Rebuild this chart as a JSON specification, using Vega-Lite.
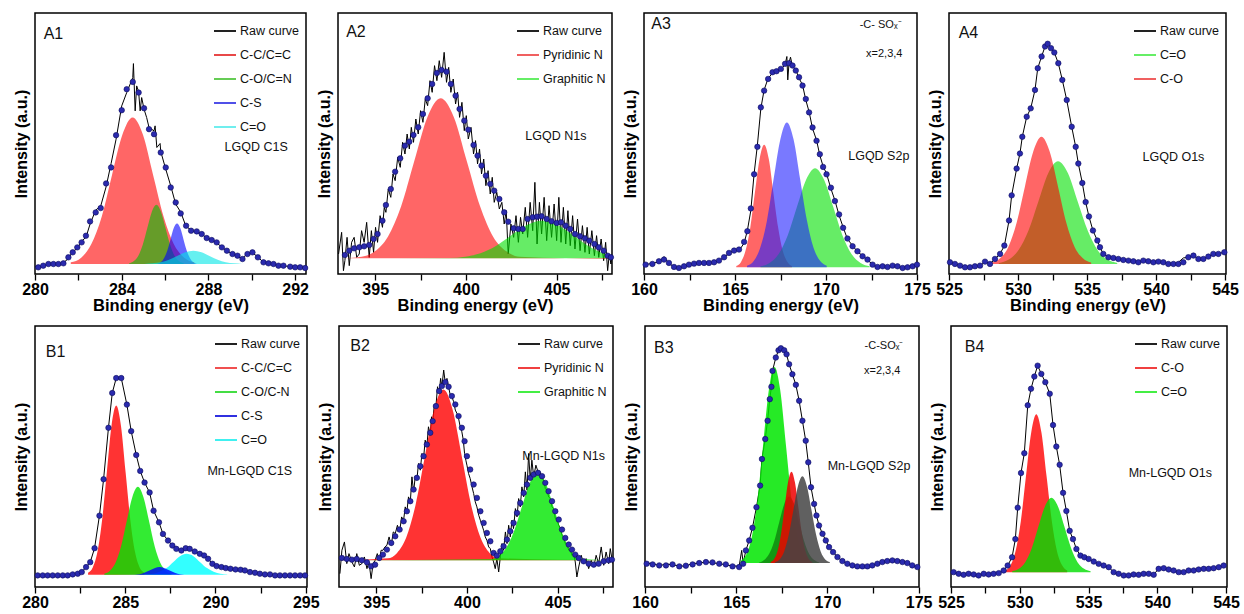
{
"$schema":"https://vega.github.io/schema/vega-lite/v6.json",
"padding":{"left":12,"top":12,"right":0,"bottom":0},
"config":{
 "font":"Liberation Sans",
 "view":{"stroke":"#000","strokeWidth":1.5},
 "axis":{"grid":false,"domain":false,"labelFont":"Liberation Sans","labelFontSize":16,"labelFontWeight":"bold","labelColor":"#000","titleFont":"Liberation Sans","titleFontWeight":"bold","titleColor":"#000","tickColor":"#000","tickWidth":1.3},
 "axisX":{"titleFontSize":16.5,"labelPadding":1,"titlePadding":0,"labelFlush":false,"labelOverlap":false,"tickSize":{"condition":{"test":"datum.label === ''","value":3.5},"value":6}},
 "axisY":{"labels":false,"ticks":false,"titleFontSize":16,"titlePadding":6},
 "legend":{"orient":"top-right","offset":6,"symbolType":"stroke","symbolSize":484,"symbolStrokeWidth":2,"symbolOpacity":1,"labelFont":"Liberation Sans","labelFontSize":12.5,"labelColor":"#111","rowPadding":5,"labelOffset":3,"padding":0},
 "text":{"font":"Liberation Sans","color":"#111"}
},
"datasets":{
"comp":[
{"p":"A1","c":"C-C/C=C","x":281.65,"y":35},{"p":"A1","c":"C-C/C=C","x":282.13,"y":49},{"p":"A1","c":"C-C/C=C","x":282.6,"y":90},{"p":"A1","c":"C-C/C=C","x":283.08,"y":173},{"p":"A1","c":"C-C/C=C","x":283.55,"y":297},{"p":"A1","c":"C-C/C=C","x":284.03,"y":418},{"p":"A1","c":"C-C/C=C","x":284.5,"y":470},{"p":"A1","c":"C-C/C=C","x":284.98,"y":418},{"p":"A1","c":"C-C/C=C","x":285.45,"y":297},{"p":"A1","c":"C-C/C=C","x":285.93,"y":173},{"p":"A1","c":"C-C/C=C","x":286.4,"y":90},{"p":"A1","c":"C-C/C=C","x":286.88,"y":49},{"p":"A1","c":"C-C/C=C","x":287.35,"y":35},
{"p":"A1","c":"C-O/C=N","x":284.34,"y":32},{"p":"A1","c":"C-O/C=N","x":284.55,"y":38},{"p":"A1","c":"C-O/C=N","x":284.76,"y":54},{"p":"A1","c":"C-O/C=N","x":284.97,"y":88},{"p":"A1","c":"C-O/C=N","x":285.18,"y":138},{"p":"A1","c":"C-O/C=N","x":285.39,"y":187},{"p":"A1","c":"C-O/C=N","x":285.6,"y":208},{"p":"A1","c":"C-O/C=N","x":285.81,"y":187},{"p":"A1","c":"C-O/C=N","x":286.02,"y":138},{"p":"A1","c":"C-O/C=N","x":286.23,"y":88},{"p":"A1","c":"C-O/C=N","x":286.44,"y":54},{"p":"A1","c":"C-O/C=N","x":286.65,"y":38},{"p":"A1","c":"C-O/C=N","x":286.86,"y":32},
{"p":"A1","c":"C-S","x":285.65,"y":31},{"p":"A1","c":"C-S","x":285.8,"y":35},{"p":"A1","c":"C-S","x":285.95,"y":47},{"p":"A1","c":"C-S","x":286.1,"y":70},{"p":"A1","c":"C-S","x":286.25,"y":104},{"p":"A1","c":"C-S","x":286.4,"y":138},{"p":"A1","c":"C-S","x":286.55,"y":152},{"p":"A1","c":"C-S","x":286.7,"y":138},{"p":"A1","c":"C-S","x":286.85,"y":104},{"p":"A1","c":"C-S","x":287.0,"y":70},{"p":"A1","c":"C-S","x":287.15,"y":47},{"p":"A1","c":"C-S","x":287.3,"y":35},{"p":"A1","c":"C-S","x":287.45,"y":31},
{"p":"A1","c":"C=O","x":285.05,"y":30},{"p":"A1","c":"C=O","x":285.43,"y":32},{"p":"A1","c":"C=O","x":285.8,"y":35},{"p":"A1","c":"C=O","x":286.18,"y":43},{"p":"A1","c":"C=O","x":286.55,"y":54},{"p":"A1","c":"C=O","x":286.93,"y":65},{"p":"A1","c":"C=O","x":287.3,"y":70},{"p":"A1","c":"C=O","x":287.68,"y":65},{"p":"A1","c":"C=O","x":288.05,"y":54},{"p":"A1","c":"C=O","x":288.43,"y":43},{"p":"A1","c":"C=O","x":288.8,"y":35},{"p":"A1","c":"C=O","x":289.18,"y":32},{"p":"A1","c":"C=O","x":289.55,"y":30},
{"p":"A2","c":"Pyridinic N","x":392.95,"y":47},{"p":"A2","c":"Pyridinic N","x":394.25,"y":52},{"p":"A2","c":"Pyridinic N","x":394.98,"y":68},{"p":"A2","c":"Pyridinic N","x":395.7,"y":112},{"p":"A2","c":"Pyridinic N","x":396.43,"y":203},{"p":"A2","c":"Pyridinic N","x":397.15,"y":338},{"p":"A2","c":"Pyridinic N","x":397.88,"y":471},{"p":"A2","c":"Pyridinic N","x":398.6,"y":527},{"p":"A2","c":"Pyridinic N","x":399.33,"y":471},{"p":"A2","c":"Pyridinic N","x":400.05,"y":338},{"p":"A2","c":"Pyridinic N","x":400.78,"y":203},{"p":"A2","c":"Pyridinic N","x":401.5,"y":112},{"p":"A2","c":"Pyridinic N","x":402.23,"y":68},{"p":"A2","c":"Pyridinic N","x":402.95,"y":52},{"p":"A2","c":"Pyridinic N","x":408.05,"y":45},
{"p":"A2","c":"Graphitic N","x":392.95,"y":47},{"p":"A2","c":"Graphitic N","x":399.1,"y":48},{"p":"A2","c":"Graphitic N","x":399.95,"y":52},{"p":"A2","c":"Graphitic N","x":400.8,"y":62},{"p":"A2","c":"Graphitic N","x":401.65,"y":84},{"p":"A2","c":"Graphitic N","x":402.5,"y":116},{"p":"A2","c":"Graphitic N","x":403.35,"y":147},{"p":"A2","c":"Graphitic N","x":404.2,"y":160},{"p":"A2","c":"Graphitic N","x":405.05,"y":147},{"p":"A2","c":"Graphitic N","x":405.9,"y":116},{"p":"A2","c":"Graphitic N","x":406.75,"y":84},{"p":"A2","c":"Graphitic N","x":407.6,"y":62},{"p":"A2","c":"Graphitic N","x":408.05,"y":56},
{"p":"A3","c":"r","x":165.07,"y":24},{"p":"A3","c":"r","x":165.33,"y":36},{"p":"A3","c":"r","x":165.58,"y":70},{"p":"A3","c":"r","x":165.84,"y":139},{"p":"A3","c":"r","x":166.09,"y":242},{"p":"A3","c":"r","x":166.35,"y":343},{"p":"A3","c":"r","x":166.6,"y":386},{"p":"A3","c":"r","x":166.86,"y":343},{"p":"A3","c":"r","x":167.11,"y":242},{"p":"A3","c":"r","x":167.37,"y":139},{"p":"A3","c":"r","x":167.62,"y":70},{"p":"A3","c":"r","x":167.88,"y":36},{"p":"A3","c":"r","x":168.13,"y":24},
{"p":"A3","c":"g","x":166.4,"y":23},{"p":"A3","c":"g","x":166.9,"y":33},{"p":"A3","c":"g","x":167.4,"y":60},{"p":"A3","c":"g","x":167.9,"y":116},{"p":"A3","c":"g","x":168.4,"y":200},{"p":"A3","c":"g","x":168.9,"y":281},{"p":"A3","c":"g","x":169.4,"y":316},{"p":"A3","c":"g","x":169.9,"y":281},{"p":"A3","c":"g","x":170.4,"y":200},{"p":"A3","c":"g","x":170.9,"y":116},{"p":"A3","c":"g","x":171.4,"y":60},{"p":"A3","c":"g","x":171.9,"y":33},{"p":"A3","c":"g","x":172.4,"y":23},
{"p":"A3","c":"b","x":165.66,"y":25},{"p":"A3","c":"b","x":166.03,"y":39},{"p":"A3","c":"b","x":166.39,"y":79},{"p":"A3","c":"b","x":166.76,"y":161},{"p":"A3","c":"b","x":167.12,"y":283},{"p":"A3","c":"b","x":167.49,"y":402},{"p":"A3","c":"b","x":167.85,"y":453},{"p":"A3","c":"b","x":168.22,"y":402},{"p":"A3","c":"b","x":168.58,"y":283},{"p":"A3","c":"b","x":168.95,"y":161},{"p":"A3","c":"b","x":169.31,"y":79},{"p":"A3","c":"b","x":169.68,"y":39},{"p":"A3","c":"b","x":170.04,"y":25},
{"p":"A4","c":"C=O","x":528.61,"y":33},{"p":"A4","c":"C=O","x":529.33,"y":43},{"p":"A4","c":"C=O","x":530.04,"y":72},{"p":"A4","c":"C=O","x":530.76,"y":130},{"p":"A4","c":"C=O","x":531.47,"y":216},{"p":"A4","c":"C=O","x":532.19,"y":301},{"p":"A4","c":"C=O","x":532.9,"y":337},{"p":"A4","c":"C=O","x":533.62,"y":301},{"p":"A4","c":"C=O","x":534.33,"y":216},{"p":"A4","c":"C=O","x":535.05,"y":130},{"p":"A4","c":"C=O","x":535.76,"y":72},{"p":"A4","c":"C=O","x":536.48,"y":43},{"p":"A4","c":"C=O","x":537.19,"y":33},
{"p":"A4","c":"C-O","x":528.1,"y":34},{"p":"A4","c":"C-O","x":528.7,"y":47},{"p":"A4","c":"C-O","x":529.3,"y":81},{"p":"A4","c":"C-O","x":529.9,"y":153},{"p":"A4","c":"C-O","x":530.5,"y":261},{"p":"A4","c":"C-O","x":531.1,"y":365},{"p":"A4","c":"C-O","x":531.7,"y":410},{"p":"A4","c":"C-O","x":532.3,"y":365},{"p":"A4","c":"C-O","x":532.9,"y":261},{"p":"A4","c":"C-O","x":533.5,"y":153},{"p":"A4","c":"C-O","x":534.1,"y":81},{"p":"A4","c":"C-O","x":534.7,"y":47},{"p":"A4","c":"C-O","x":535.3,"y":34},
{"p":"B1","c":"C-C/C=C","x":282.94,"y":43},{"p":"B1","c":"C-C/C=C","x":283.2,"y":59},{"p":"B1","c":"C-C/C=C","x":283.46,"y":106},{"p":"B1","c":"C-C/C=C","x":283.72,"y":203},{"p":"B1","c":"C-C/C=C","x":283.98,"y":346},{"p":"B1","c":"C-C/C=C","x":284.24,"y":487},{"p":"B1","c":"C-C/C=C","x":284.5,"y":547},{"p":"B1","c":"C-C/C=C","x":284.76,"y":487},{"p":"B1","c":"C-C/C=C","x":285.02,"y":346},{"p":"B1","c":"C-C/C=C","x":285.28,"y":203},{"p":"B1","c":"C-C/C=C","x":285.54,"y":106},{"p":"B1","c":"C-C/C=C","x":285.8,"y":59},{"p":"B1","c":"C-C/C=C","x":286.06,"y":43},
{"p":"B1","c":"C-O/C-N","x":283.84,"y":40},{"p":"B1","c":"C-O/C-N","x":284.15,"y":49},{"p":"B1","c":"C-O/C-N","x":284.46,"y":73},{"p":"B1","c":"C-O/C-N","x":284.77,"y":123},{"p":"B1","c":"C-O/C-N","x":285.08,"y":198},{"p":"B1","c":"C-O/C-N","x":285.39,"y":271},{"p":"B1","c":"C-O/C-N","x":285.7,"y":302},{"p":"B1","c":"C-O/C-N","x":286.01,"y":271},{"p":"B1","c":"C-O/C-N","x":286.32,"y":198},{"p":"B1","c":"C-O/C-N","x":286.63,"y":123},{"p":"B1","c":"C-O/C-N","x":286.94,"y":73},{"p":"B1","c":"C-O/C-N","x":287.25,"y":49},{"p":"B1","c":"C-O/C-N","x":287.56,"y":40},
{"p":"B1","c":"C=O","x":282.65,"y":37},{"p":"B1","c":"C=O","x":286.15,"y":38},{"p":"B1","c":"C=O","x":286.53,"y":40},{"p":"B1","c":"C=O","x":286.9,"y":46},{"p":"B1","c":"C=O","x":287.28,"y":57},{"p":"B1","c":"C=O","x":287.65,"y":75},{"p":"B1","c":"C=O","x":288.03,"y":93},{"p":"B1","c":"C=O","x":288.4,"y":100},{"p":"B1","c":"C=O","x":288.78,"y":93},{"p":"B1","c":"C=O","x":289.15,"y":75},{"p":"B1","c":"C=O","x":289.53,"y":57},{"p":"B1","c":"C=O","x":289.9,"y":46},{"p":"B1","c":"C=O","x":290.28,"y":40},{"p":"B1","c":"C=O","x":290.65,"y":38},
{"p":"B1","c":"C-S","x":285.4,"y":37},{"p":"B1","c":"C-S","x":285.65,"y":38},{"p":"B1","c":"C-S","x":285.9,"y":40},{"p":"B1","c":"C-S","x":286.15,"y":45},{"p":"B1","c":"C-S","x":286.4,"y":51},{"p":"B1","c":"C-S","x":286.65,"y":57},{"p":"B1","c":"C-S","x":286.9,"y":60},{"p":"B1","c":"C-S","x":287.15,"y":57},{"p":"B1","c":"C-S","x":287.4,"y":51},{"p":"B1","c":"C-S","x":287.65,"y":45},{"p":"B1","c":"C-S","x":287.9,"y":40},{"p":"B1","c":"C-S","x":288.15,"y":38},{"p":"B1","c":"C-S","x":288.4,"y":37},{"p":"B1","c":"C-S","x":290.6,"y":37},
{"p":"B2","c":"Pyridinic N","x":392.95,"y":80},{"p":"B2","c":"Pyridinic N","x":395.64,"y":86},{"p":"B2","c":"Pyridinic N","x":396.15,"y":102},{"p":"B2","c":"Pyridinic N","x":396.66,"y":149},{"p":"B2","c":"Pyridinic N","x":397.17,"y":246},{"p":"B2","c":"Pyridinic N","x":397.68,"y":390},{"p":"B2","c":"Pyridinic N","x":398.19,"y":532},{"p":"B2","c":"Pyridinic N","x":398.7,"y":592},{"p":"B2","c":"Pyridinic N","x":399.21,"y":532},{"p":"B2","c":"Pyridinic N","x":399.72,"y":390},{"p":"B2","c":"Pyridinic N","x":400.23,"y":246},{"p":"B2","c":"Pyridinic N","x":400.74,"y":149},{"p":"B2","c":"Pyridinic N","x":401.25,"y":102},{"p":"B2","c":"Pyridinic N","x":401.76,"y":86},{"p":"B2","c":"Pyridinic N","x":408.05,"y":80},
{"p":"B2","c":"Graphitic N","x":392.95,"y":80},{"p":"B2","c":"Graphitic N","x":401.26,"y":83},{"p":"B2","c":"Graphitic N","x":401.7,"y":91},{"p":"B2","c":"Graphitic N","x":402.14,"y":115},{"p":"B2","c":"Graphitic N","x":402.58,"y":165},{"p":"B2","c":"Graphitic N","x":403.02,"y":239},{"p":"B2","c":"Graphitic N","x":403.46,"y":311},{"p":"B2","c":"Graphitic N","x":403.9,"y":342},{"p":"B2","c":"Graphitic N","x":404.34,"y":311},{"p":"B2","c":"Graphitic N","x":404.78,"y":239},{"p":"B2","c":"Graphitic N","x":405.22,"y":165},{"p":"B2","c":"Graphitic N","x":405.66,"y":115},{"p":"B2","c":"Graphitic N","x":406.1,"y":91},{"p":"B2","c":"Graphitic N","x":406.54,"y":83},{"p":"B2","c":"Graphitic N","x":408.05,"y":80},
{"p":"B3","c":"g1","x":165.24,"y":79},{"p":"B3","c":"g1","x":165.55,"y":98},{"p":"B3","c":"g1","x":165.86,"y":152},{"p":"B3","c":"g1","x":166.17,"y":264},{"p":"B3","c":"g1","x":166.48,"y":430},{"p":"B3","c":"g1","x":166.79,"y":593},{"p":"B3","c":"g1","x":167.1,"y":662},{"p":"B3","c":"g1","x":167.41,"y":593},{"p":"B3","c":"g1","x":167.72,"y":430},{"p":"B3","c":"g1","x":168.03,"y":264},{"p":"B3","c":"g1","x":168.34,"y":152},{"p":"B3","c":"g1","x":168.65,"y":98},{"p":"B3","c":"g1","x":168.96,"y":79},
{"p":"B3","c":"g2","x":166.25,"y":74},{"p":"B3","c":"g2","x":166.53,"y":81},{"p":"B3","c":"g2","x":166.8,"y":99},{"p":"B3","c":"g2","x":167.08,"y":137},{"p":"B3","c":"g2","x":167.35,"y":193},{"p":"B3","c":"g2","x":167.63,"y":249},{"p":"B3","c":"g2","x":167.9,"y":272},{"p":"B3","c":"g2","x":168.18,"y":249},{"p":"B3","c":"g2","x":168.45,"y":193},{"p":"B3","c":"g2","x":168.73,"y":137},{"p":"B3","c":"g2","x":169.0,"y":99},{"p":"B3","c":"g2","x":169.28,"y":81},{"p":"B3","c":"g2","x":169.55,"y":74},
{"p":"B3","c":"r","x":166.89,"y":75},{"p":"B3","c":"r","x":167.08,"y":84},{"p":"B3","c":"r","x":167.27,"y":109},{"p":"B3","c":"r","x":167.46,"y":161},{"p":"B3","c":"r","x":167.65,"y":239},{"p":"B3","c":"r","x":167.84,"y":315},{"p":"B3","c":"r","x":168.03,"y":347},{"p":"B3","c":"r","x":168.22,"y":315},{"p":"B3","c":"r","x":168.41,"y":239},{"p":"B3","c":"r","x":168.6,"y":161},{"p":"B3","c":"r","x":168.79,"y":109},{"p":"B3","c":"r","x":168.98,"y":84},{"p":"B3","c":"r","x":169.17,"y":75},
{"p":"B3","c":"k","x":167.13,"y":75},{"p":"B3","c":"k","x":167.38,"y":83},{"p":"B3","c":"k","x":167.63,"y":107},{"p":"B3","c":"k","x":167.88,"y":157},{"p":"B3","c":"k","x":168.13,"y":230},{"p":"B3","c":"k","x":168.38,"y":302},{"p":"B3","c":"k","x":168.63,"y":333},{"p":"B3","c":"k","x":168.88,"y":302},{"p":"B3","c":"k","x":169.13,"y":230},{"p":"B3","c":"k","x":169.38,"y":157},{"p":"B3","c":"k","x":169.63,"y":107},{"p":"B3","c":"k","x":169.88,"y":83},{"p":"B3","c":"k","x":170.13,"y":75},
{"p":"B4","c":"C-O","x":528.95,"y":50},{"p":"B4","c":"C-O","x":529.33,"y":66},{"p":"B4","c":"C-O","x":529.7,"y":110},{"p":"B4","c":"C-O","x":530.08,"y":200},{"p":"B4","c":"C-O","x":530.45,"y":335},{"p":"B4","c":"C-O","x":530.83,"y":467},{"p":"B4","c":"C-O","x":531.2,"y":523},{"p":"B4","c":"C-O","x":531.58,"y":467},{"p":"B4","c":"C-O","x":531.95,"y":335},{"p":"B4","c":"C-O","x":532.33,"y":200},{"p":"B4","c":"C-O","x":532.7,"y":110},{"p":"B4","c":"C-O","x":533.08,"y":66},{"p":"B4","c":"C-O","x":533.45,"y":50},
{"p":"B4","c":"C=O","x":529.45,"y":48},{"p":"B4","c":"C=O","x":529.93,"y":55},{"p":"B4","c":"C=O","x":530.4,"y":75},{"p":"B4","c":"C=O","x":530.88,"y":118},{"p":"B4","c":"C=O","x":531.35,"y":182},{"p":"B4","c":"C=O","x":531.83,"y":244},{"p":"B4","c":"C=O","x":532.3,"y":270},{"p":"B4","c":"C=O","x":532.78,"y":244},{"p":"B4","c":"C=O","x":533.25,"y":182},{"p":"B4","c":"C=O","x":533.73,"y":118},{"p":"B4","c":"C=O","x":534.2,"y":75},{"p":"B4","c":"C=O","x":534.68,"y":55},{"p":"B4","c":"C=O","x":535.15,"y":48}
],
"fit":[
{"p":"A1","x":280.0,"r":22},{"p":"A1","x":280.15,"y":20,"r":20},{"p":"A1","x":280.38,"y":25,"r":26},{"p":"A1","x":280.62,"y":30,"r":28},{"p":"A1","x":280.85,"y":30,"r":33},{"p":"A1","x":281.08,"y":30,"r":28},{"p":"A1","x":281.31,"y":32,"r":34},{"p":"A1","x":281.54,"y":50,"r":46},{"p":"A1","x":281.74,"y":65,"r":68},{"p":"A1","x":281.95,"y":80,"r":76},{"p":"A1","x":282.15,"y":95,"r":99},{"p":"A1","x":282.35,"y":115,"r":110},{"p":"A1","x":282.54,"y":158,"r":150},{"p":"A1","x":282.8,"y":185,"r":192},{"p":"A1","x":283.03,"y":198,"r":204},{"p":"A1","x":283.28,"y":272,"r":262},{"p":"A1","x":283.51,"y":320,"r":332},{"p":"A1","x":283.74,"y":417,"r":405},{"p":"A1","x":284.0,"y":492,"r":505},{"p":"A1","x":284.23,"y":555,"r":545},{"p":"A1","x":284.51,"y":577,"r":590},{"p":"A1","x":284.54,"r":632},{"p":"A1","x":284.62,"r":490},{"p":"A1","x":284.69,"r":565},{"p":"A1","x":284.78,"y":545,"r":548},{"p":"A1","x":284.85,"r":490},{"p":"A1","x":284.92,"r":530},{"p":"A1","x":285.03,"y":498,"r":495},{"p":"A1","x":285.15,"r":470},{"p":"A1","x":285.26,"y":435,"r":440},{"p":"A1","x":285.49,"y":420,"r":430},{"p":"A1","x":285.54,"r":445},{"p":"A1","x":285.62,"r":380},{"p":"A1","x":285.77,"r":392},{"p":"A1","x":285.8,"y":365,"r":368},{"p":"A1","x":286.03,"y":320,"r":315},{"p":"A1","x":286.26,"y":260,"r":265},{"p":"A1","x":286.49,"y":215,"r":210},{"p":"A1","x":286.72,"y":182,"r":186},{"p":"A1","x":286.97,"y":145,"r":142},{"p":"A1","x":287.2,"y":130,"r":133},{"p":"A1","x":287.46,"y":128,"r":124},{"p":"A1","x":287.69,"y":120,"r":122},{"p":"A1","x":287.92,"y":108,"r":106},{"p":"A1","x":288.15,"y":102,"r":104},{"p":"A1","x":288.38,"y":95,"r":92},{"p":"A1","x":288.62,"y":80,"r":82},{"p":"A1","x":288.85,"y":70,"r":68},{"p":"A1","x":289.11,"y":60,"r":62},{"p":"A1","x":289.34,"y":55,"r":52},{"p":"A1","x":289.57,"y":45,"r":47},{"p":"A1","x":289.8,"y":60,"r":62},{"p":"A1","x":290.03,"y":65,"r":63},{"p":"A1","x":290.28,"y":50,"r":52},{"p":"A1","x":290.54,"y":35,"r":34},{"p":"A1","x":290.77,"y":32,"r":33},{"p":"A1","x":291.0,"y":30,"r":29},{"p":"A1","x":291.23,"y":25,"r":26},{"p":"A1","x":291.46,"y":25,"r":24},{"p":"A1","x":291.77,"y":22,"r":23},{"p":"A1","x":292.0,"y":20,"r":20},{"p":"A1","x":292.23,"y":20,"r":21},{"p":"A1","x":292.46,"y":18,"r":18},
{"p":"A2","x":392.98,"r":60},{"p":"A2","x":393.15,"r":125},{"p":"A2","x":393.25,"r":10},{"p":"A2","x":393.33,"y":57,"r":40},{"p":"A2","x":393.45,"r":110},{"p":"A2","x":393.57,"y":70,"r":25},{"p":"A2","x":393.7,"r":95},{"p":"A2","x":393.84,"y":77,"r":110},{"p":"A2","x":393.98,"r":50},{"p":"A2","x":394.12,"y":80,"r":60},{"p":"A2","x":394.25,"r":130},{"p":"A2","x":394.39,"y":83,"r":95},{"p":"A2","x":394.53,"r":155},{"p":"A2","x":394.67,"y":87,"r":50},{"p":"A2","x":394.79,"r":130},{"p":"A2","x":394.91,"y":105,"r":65},{"p":"A2","x":395.02,"r":140},{"p":"A2","x":395.13,"y":120,"r":95},{"p":"A2","x":395.27,"r":175},{"p":"A2","x":395.4,"y":160,"r":140},{"p":"A2","x":395.5,"r":200},{"p":"A2","x":395.59,"y":207,"r":185},{"p":"A2","x":395.72,"r":255},{"p":"A2","x":395.86,"y":255,"r":230},{"p":"A2","x":395.98,"r":300},{"p":"A2","x":396.1,"y":307,"r":280},{"p":"A2","x":396.24,"r":350},{"p":"A2","x":396.38,"y":347,"r":320},{"p":"A2","x":396.51,"r":395},{"p":"A2","x":396.64,"y":385,"r":360},{"p":"A2","x":396.76,"r":420},{"p":"A2","x":396.88,"y":397,"r":375},{"p":"A2","x":396.99,"r":440},{"p":"A2","x":397.11,"y":417,"r":395},{"p":"A2","x":397.24,"r":465},{"p":"A2","x":397.37,"y":440,"r":420},{"p":"A2","x":397.5,"r":490},{"p":"A2","x":397.63,"y":480,"r":455},{"p":"A2","x":397.76,"r":525},{"p":"A2","x":397.89,"y":527,"r":505},{"p":"A2","x":398.02,"r":580},{"p":"A2","x":398.14,"y":570,"r":545},{"p":"A2","x":398.27,"r":625},{"p":"A2","x":398.4,"y":603,"r":580},{"p":"A2","x":398.53,"r":640},{"p":"A2","x":398.66,"y":612,"r":590},{"p":"A2","x":398.8,"r":665},{"p":"A2","x":398.93,"y":607,"r":575},{"p":"A2","x":399.05,"r":620},{"p":"A2","x":399.17,"y":570,"r":545},{"p":"A2","x":399.3,"r":585},{"p":"A2","x":399.43,"y":535,"r":510},{"p":"A2","x":399.54,"r":545},{"p":"A2","x":399.65,"y":495,"r":470},{"p":"A2","x":399.78,"r":515},{"p":"A2","x":399.91,"y":460,"r":430},{"p":"A2","x":400.02,"r":475},{"p":"A2","x":400.13,"y":433,"r":405},{"p":"A2","x":400.28,"r":440},{"p":"A2","x":400.42,"y":387,"r":360},{"p":"A2","x":400.53,"r":400},{"p":"A2","x":400.64,"y":355,"r":330},{"p":"A2","x":400.75,"r":375},{"p":"A2","x":400.86,"y":325,"r":300},{"p":"A2","x":400.98,"r":345},{"p":"A2","x":401.1,"y":295,"r":265},{"p":"A2","x":401.22,"r":310},{"p":"A2","x":401.34,"y":270,"r":240},{"p":"A2","x":401.45,"r":290},{"p":"A2","x":401.56,"y":250,"r":215},{"p":"A2","x":401.7,"r":245},{"p":"A2","x":401.84,"y":225,"r":195},{"p":"A2","x":401.98,"r":215},{"p":"A2","x":402.11,"y":185,"r":150},{"p":"A2","x":402.22,"r":190},{"p":"A2","x":402.33,"y":157,"r":60},{"p":"A2","x":402.48,"r":150},{"p":"A2","x":402.63,"y":137,"r":110},{"p":"A2","x":402.76,"r":175},{"p":"A2","x":402.89,"y":135,"r":95},{"p":"A2","x":403.01,"r":170},{"p":"A2","x":403.13,"y":135,"r":120},{"p":"A2","x":403.27,"r":200},{"p":"A2","x":403.4,"y":165,"r":110},{"p":"A2","x":403.54,"r":215},{"p":"A2","x":403.68,"y":170,"r":130},{"p":"A2","x":403.8,"r":275},{"p":"A2","x":403.92,"y":172,"r":90},{"p":"A2","x":404.05,"r":215},{"p":"A2","x":404.17,"y":173,"r":120},{"p":"A2","x":404.31,"r":230},{"p":"A2","x":404.45,"y":165,"r":100},{"p":"A2","x":404.58,"r":205},{"p":"A2","x":404.72,"y":158,"r":110},{"p":"A2","x":404.86,"r":210},{"p":"A2","x":405.0,"y":153,"r":100},{"p":"A2","x":405.12,"r":230},{"p":"A2","x":405.24,"y":155,"r":95},{"p":"A2","x":405.37,"r":200},{"p":"A2","x":405.5,"y":145,"r":90},{"p":"A2","x":405.62,"r":190},{"p":"A2","x":405.75,"y":135,"r":85},{"p":"A2","x":405.88,"r":175},{"p":"A2","x":406.01,"y":120,"r":75},{"p":"A2","x":406.15,"r":165},{"p":"A2","x":406.29,"y":113,"r":70},{"p":"A2","x":406.42,"r":145},{"p":"A2","x":406.56,"y":107,"r":65},{"p":"A2","x":406.68,"r":140},{"p":"A2","x":406.8,"y":100,"r":60},{"p":"A2","x":406.94,"r":130},{"p":"A2","x":407.08,"y":90,"r":55},{"p":"A2","x":407.2,"r":115},{"p":"A2","x":407.32,"y":80,"r":50},{"p":"A2","x":407.45,"r":105},{"p":"A2","x":407.59,"y":70,"r":40},{"p":"A2","x":407.7,"r":95},{"p":"A2","x":407.81,"y":55,"r":10},{"p":"A2","x":407.9,"r":60},{"p":"A2","x":407.99,"y":50,"r":30},{"p":"A2","x":408.05,"r":60},
{"p":"A3","x":160.09,"y":28,"r":28},{"p":"A3","x":160.46,"y":30,"r":32},{"p":"A3","x":160.82,"y":38,"r":36},{"p":"A3","x":161.1,"y":43,"r":52},{"p":"A3","x":161.37,"y":33,"r":31},{"p":"A3","x":161.65,"y":21,"r":22},{"p":"A3","x":161.92,"y":18,"r":16},{"p":"A3","x":162.2,"y":23,"r":25},{"p":"A3","x":162.47,"y":28,"r":27},{"p":"A3","x":162.75,"y":31,"r":34},{"p":"A3","x":163.02,"y":33,"r":30},{"p":"A3","x":163.3,"y":33,"r":35},{"p":"A3","x":163.57,"y":33,"r":32},{"p":"A3","x":163.85,"y":35,"r":37},{"p":"A3","x":164.12,"y":40,"r":38},{"p":"A3","x":164.4,"y":50,"r":52},{"p":"A3","x":164.67,"y":63,"r":60},{"p":"A3","x":164.95,"y":70,"r":73},{"p":"A3","x":165.22,"y":73,"r":70},{"p":"A3","x":165.5,"y":96,"r":92},{"p":"A3","x":165.68,"y":128,"r":130},{"p":"A3","x":165.87,"y":196,"r":190},{"p":"A3","x":166.05,"y":298,"r":300},{"p":"A3","x":166.23,"y":380,"r":385},{"p":"A3","x":166.42,"y":498,"r":495},{"p":"A3","x":166.6,"y":548,"r":550},{"p":"A3","x":166.82,"y":583,"r":585},{"p":"A3","x":167.06,"y":603,"r":600},{"p":"A3","x":167.28,"y":606,"r":610},{"p":"A3","x":167.52,"y":613,"r":612},{"p":"A3","x":167.75,"y":628,"r":625},{"p":"A3","x":167.85,"r":650},{"p":"A3","x":167.9,"r":580},{"p":"A3","x":167.97,"y":630,"r":632},{"p":"A3","x":168.05,"r":648},{"p":"A3","x":168.16,"y":623,"r":620},{"p":"A3","x":168.34,"y":608,"r":610},{"p":"A3","x":168.52,"y":588,"r":585},{"p":"A3","x":168.71,"y":563,"r":565},{"p":"A3","x":168.89,"y":523,"r":520},{"p":"A3","x":169.07,"y":483,"r":485},{"p":"A3","x":169.26,"y":438,"r":435},{"p":"A3","x":169.48,"y":398,"r":400},{"p":"A3","x":169.66,"y":358,"r":355},{"p":"A3","x":169.84,"y":320,"r":322},{"p":"A3","x":170.03,"y":298,"r":300},{"p":"A3","x":170.27,"y":258,"r":255},{"p":"A3","x":170.49,"y":218,"r":220},{"p":"A3","x":170.72,"y":178,"r":175},{"p":"A3","x":170.94,"y":138,"r":140},{"p":"A3","x":171.18,"y":106,"r":104},{"p":"A3","x":171.46,"y":83,"r":85},{"p":"A3","x":171.73,"y":68,"r":66},{"p":"A3","x":172.01,"y":53,"r":55},{"p":"A3","x":172.28,"y":43,"r":41},{"p":"A3","x":172.56,"y":28,"r":30},{"p":"A3","x":172.83,"y":21,"r":18},{"p":"A3","x":173.11,"y":23,"r":25},{"p":"A3","x":173.38,"y":21,"r":20},{"p":"A3","x":173.66,"y":25,"r":27},{"p":"A3","x":173.93,"y":23,"r":22},{"p":"A3","x":174.21,"y":18,"r":19},{"p":"A3","x":174.48,"y":20,"r":22},{"p":"A3","x":174.76,"y":23,"r":21},{"p":"A3","x":175.0,"y":28,"r":28},
{"p":"A4","x":525.07,"y":35,"r":35},{"p":"A4","x":525.43,"y":30,"r":31},{"p":"A4","x":525.8,"y":25,"r":24},{"p":"A4","x":526.16,"y":20,"r":21},{"p":"A4","x":526.52,"y":20,"r":19},{"p":"A4","x":526.88,"y":23,"r":24},{"p":"A4","x":527.25,"y":25,"r":25},{"p":"A4","x":527.61,"y":37,"r":36},{"p":"A4","x":527.97,"y":30,"r":31},{"p":"A4","x":528.33,"y":45,"r":44},{"p":"A4","x":528.7,"y":60,"r":61},{"p":"A4","x":529.01,"y":85,"r":84},{"p":"A4","x":529.35,"y":160,"r":160},{"p":"A4","x":529.54,"y":235,"r":235},{"p":"A4","x":529.9,"y":315,"r":315},{"p":"A4","x":530.14,"y":360,"r":360},{"p":"A4","x":530.31,"y":410,"r":410},{"p":"A4","x":530.63,"y":470,"r":470},{"p":"A4","x":530.92,"y":495,"r":495},{"p":"A4","x":531.23,"y":550,"r":550},{"p":"A4","x":531.43,"y":615,"r":615},{"p":"A4","x":531.71,"y":650,"r":650},{"p":"A4","x":531.96,"y":680,"r":680},{"p":"A4","x":532.15,"y":688,"r":688},{"p":"A4","x":532.39,"y":675,"r":675},{"p":"A4","x":532.63,"y":662,"r":662},{"p":"A4","x":532.92,"y":630,"r":630},{"p":"A4","x":533.21,"y":580,"r":580},{"p":"A4","x":533.53,"y":520,"r":520},{"p":"A4","x":533.89,"y":440,"r":440},{"p":"A4","x":534.18,"y":380,"r":380},{"p":"A4","x":534.37,"y":330,"r":330},{"p":"A4","x":534.66,"y":272,"r":272},{"p":"A4","x":534.9,"y":215,"r":215},{"p":"A4","x":535.14,"y":172,"r":172},{"p":"A4","x":535.43,"y":130,"r":130},{"p":"A4","x":535.75,"y":100,"r":100},{"p":"A4","x":535.94,"y":80,"r":80},{"p":"A4","x":536.18,"y":60,"r":60},{"p":"A4","x":536.55,"y":50,"r":51},{"p":"A4","x":536.91,"y":48,"r":47},{"p":"A4","x":537.27,"y":45,"r":46},{"p":"A4","x":537.63,"y":42,"r":41},{"p":"A4","x":538.0,"y":40,"r":40},{"p":"A4","x":538.36,"y":38,"r":39},{"p":"A4","x":538.72,"y":35,"r":34},{"p":"A4","x":539.08,"y":40,"r":41},{"p":"A4","x":539.44,"y":38,"r":37},{"p":"A4","x":539.81,"y":35,"r":36},{"p":"A4","x":540.17,"y":37,"r":37},{"p":"A4","x":540.53,"y":35,"r":34},{"p":"A4","x":540.89,"y":30,"r":31},{"p":"A4","x":541.26,"y":30,"r":30},{"p":"A4","x":541.62,"y":30,"r":35},{"p":"A4","x":541.98,"y":35,"r":48},{"p":"A4","x":542.34,"y":50,"r":50},{"p":"A4","x":542.71,"y":55,"r":55},{"p":"A4","x":543.07,"y":45,"r":46},{"p":"A4","x":543.43,"y":45,"r":44},{"p":"A4","x":543.79,"y":52,"r":52},{"p":"A4","x":544.15,"y":60,"r":59},{"p":"A4","x":544.52,"y":60,"r":61},{"p":"A4","x":544.95,"y":65,"r":65},
{"p":"B1","x":280.15,"y":35,"r":35},{"p":"B1","x":280.43,"y":35,"r":36},{"p":"B1","x":280.7,"y":35,"r":34},{"p":"B1","x":280.98,"y":35,"r":36},{"p":"B1","x":281.26,"y":35,"r":34},{"p":"B1","x":281.54,"y":35,"r":35},{"p":"B1","x":281.81,"y":35,"r":36},{"p":"B1","x":282.09,"y":38,"r":37},{"p":"B1","x":282.37,"y":40,"r":41},{"p":"B1","x":282.59,"y":45,"r":45},{"p":"B1","x":282.83,"y":60,"r":60},{"p":"B1","x":283.06,"y":75,"r":75},{"p":"B1","x":283.3,"y":117,"r":117},{"p":"B1","x":283.57,"y":215,"r":215},{"p":"B1","x":283.8,"y":325,"r":325},{"p":"B1","x":284.07,"y":480,"r":480},{"p":"B1","x":284.28,"y":585,"r":585},{"p":"B1","x":284.5,"y":630,"r":630},{"p":"B1","x":284.78,"y":630,"r":630},{"p":"B1","x":285.09,"y":550,"r":550},{"p":"B1","x":285.33,"y":470,"r":470},{"p":"B1","x":285.61,"y":398,"r":398},{"p":"B1","x":285.83,"y":350,"r":350},{"p":"B1","x":286.07,"y":315,"r":315},{"p":"B1","x":286.35,"y":285,"r":285},{"p":"B1","x":286.57,"y":230,"r":230},{"p":"B1","x":286.87,"y":195,"r":195},{"p":"B1","x":287.09,"y":160,"r":160},{"p":"B1","x":287.37,"y":140,"r":140},{"p":"B1","x":287.61,"y":125,"r":125},{"p":"B1","x":287.83,"y":115,"r":115},{"p":"B1","x":288.11,"y":110,"r":110},{"p":"B1","x":288.35,"y":117,"r":117},{"p":"B1","x":288.57,"y":115,"r":115},{"p":"B1","x":288.85,"y":107,"r":107},{"p":"B1","x":289.13,"y":100,"r":100},{"p":"B1","x":289.37,"y":95,"r":95},{"p":"B1","x":289.59,"y":85,"r":85},{"p":"B1","x":289.83,"y":70,"r":70},{"p":"B1","x":290.06,"y":63,"r":63},{"p":"B1","x":290.33,"y":60,"r":60},{"p":"B1","x":290.57,"y":57,"r":57},{"p":"B1","x":290.83,"y":55,"r":55},{"p":"B1","x":291.11,"y":53,"r":53},{"p":"B1","x":291.39,"y":52,"r":52},{"p":"B1","x":291.63,"y":50,"r":50},{"p":"B1","x":291.91,"y":45,"r":45},{"p":"B1","x":292.19,"y":43,"r":43},{"p":"B1","x":292.46,"y":40,"r":40},{"p":"B1","x":292.74,"y":38,"r":38},{"p":"B1","x":293.02,"y":38,"r":38},{"p":"B1","x":293.3,"y":35,"r":36},{"p":"B1","x":293.57,"y":35,"r":34},{"p":"B1","x":293.85,"y":35,"r":36},{"p":"B1","x":294.13,"y":35,"r":34},{"p":"B1","x":294.41,"y":35,"r":35},{"p":"B1","x":294.69,"y":35,"r":36},{"p":"B1","x":294.96,"y":35,"r":35},
{"p":"B2","x":393.0,"r":40},{"p":"B2","x":393.11,"y":87,"r":110},{"p":"B2","x":393.25,"r":135},{"p":"B2","x":393.38,"y":84,"r":70},{"p":"B2","x":393.5,"r":100},{"p":"B2","x":393.66,"y":82,"r":75},{"p":"B2","x":393.8,"r":60},{"p":"B2","x":393.93,"y":84,"r":100},{"p":"B2","x":394.07,"r":65},{"p":"B2","x":394.21,"y":80,"r":70},{"p":"B2","x":394.35,"r":90},{"p":"B2","x":394.49,"y":74,"r":55},{"p":"B2","x":394.6,"r":75},{"p":"B2","x":394.72,"y":62,"r":25},{"p":"B2","x":394.83,"r":70},{"p":"B2","x":394.94,"y":67,"r":80},{"p":"B2","x":395.06,"r":100},{"p":"B2","x":395.17,"y":87,"r":80},{"p":"B2","x":395.27,"r":110},{"p":"B2","x":395.37,"y":97,"r":110},{"p":"B2","x":395.48,"r":120},{"p":"B2","x":395.59,"y":112,"r":125},{"p":"B2","x":395.71,"r":150},{"p":"B2","x":395.83,"y":132,"r":125},{"p":"B2","x":395.94,"r":165},{"p":"B2","x":396.05,"y":152,"r":160},{"p":"B2","x":396.17,"r":185},{"p":"B2","x":396.29,"y":172,"r":165},{"p":"B2","x":396.4,"r":210},{"p":"B2","x":396.51,"y":197,"r":200},{"p":"B2","x":396.6,"r":240},{"p":"B2","x":396.69,"y":227,"r":225},{"p":"B2","x":396.78,"r":270},{"p":"B2","x":396.88,"y":257,"r":255},{"p":"B2","x":396.97,"r":330},{"p":"B2","x":397.06,"y":292,"r":285},{"p":"B2","x":397.15,"r":330},{"p":"B2","x":397.24,"y":327,"r":320},{"p":"B2","x":397.33,"r":370},{"p":"B2","x":397.43,"y":362,"r":350},{"p":"B2","x":397.52,"r":400},{"p":"B2","x":397.61,"y":392,"r":385},{"p":"B2","x":397.7,"r":440},{"p":"B2","x":397.79,"y":427,"r":420},{"p":"B2","x":397.88,"r":480},{"p":"B2","x":397.98,"y":462,"r":455},{"p":"B2","x":398.05,"r":510},{"p":"B2","x":398.11,"y":497,"r":490},{"p":"B2","x":398.2,"r":545},{"p":"B2","x":398.29,"y":542,"r":540},{"p":"B2","x":398.38,"r":600},{"p":"B2","x":398.47,"y":587,"r":580},{"p":"B2","x":398.55,"r":625},{"p":"B2","x":398.62,"y":602,"r":600},{"p":"B2","x":398.72,"r":650},{"p":"B2","x":398.81,"y":614,"r":610},{"p":"B2","x":398.9,"r":625},{"p":"B2","x":398.99,"y":600,"r":600},{"p":"B2","x":399.08,"r":575},{"p":"B2","x":399.17,"y":572,"r":570},{"p":"B2","x":399.27,"r":555},{"p":"B2","x":399.36,"y":547,"r":530},{"p":"B2","x":399.45,"r":520},{"p":"B2","x":399.54,"y":512,"r":505},{"p":"B2","x":399.63,"r":480},{"p":"B2","x":399.72,"y":477,"r":465},{"p":"B2","x":399.8,"r":440},{"p":"B2","x":399.87,"y":437,"r":400},{"p":"B2","x":399.94,"r":380},{"p":"B2","x":400.0,"y":392,"r":365},{"p":"B2","x":400.09,"r":340},{"p":"B2","x":400.18,"y":352,"r":325},{"p":"B2","x":400.28,"r":300},{"p":"B2","x":400.37,"y":307,"r":280},{"p":"B2","x":400.46,"r":255},{"p":"B2","x":400.55,"y":267,"r":240},{"p":"B2","x":400.65,"r":215},{"p":"B2","x":400.74,"y":227,"r":200},{"p":"B2","x":400.83,"r":185},{"p":"B2","x":400.92,"y":192,"r":170},{"p":"B2","x":401.01,"r":150},{"p":"B2","x":401.1,"y":162,"r":140},{"p":"B2","x":401.2,"r":120},{"p":"B2","x":401.29,"y":137,"r":115},{"p":"B2","x":401.38,"r":90},{"p":"B2","x":401.47,"y":102,"r":75},{"p":"B2","x":401.56,"r":55},{"p":"B2","x":401.65,"y":94,"r":85},{"p":"B2","x":401.75,"r":45},{"p":"B2","x":401.84,"y":107,"r":90},{"p":"B2","x":401.93,"r":130},{"p":"B2","x":402.02,"y":122,"r":110},{"p":"B2","x":402.12,"r":165},{"p":"B2","x":402.21,"y":142,"r":130},{"p":"B2","x":402.3,"r":185},{"p":"B2","x":402.39,"y":167,"r":150},{"p":"B2","x":402.48,"r":200},{"p":"B2","x":402.57,"y":192,"r":175},{"p":"B2","x":402.67,"r":235},{"p":"B2","x":402.76,"y":222,"r":210},{"p":"B2","x":402.85,"r":265},{"p":"B2","x":402.94,"y":252,"r":240},{"p":"B2","x":403.03,"r":300},{"p":"B2","x":403.13,"y":282,"r":270},{"p":"B2","x":403.22,"r":345},{"p":"B2","x":403.31,"y":307,"r":290},{"p":"B2","x":403.4,"r":400},{"p":"B2","x":403.49,"y":327,"r":320},{"p":"B2","x":403.58,"r":380},{"p":"B2","x":403.68,"y":337,"r":330},{"p":"B2","x":403.8,"r":365},{"p":"B2","x":403.92,"y":342,"r":345},{"p":"B2","x":404.03,"r":345},{"p":"B2","x":404.14,"y":332,"r":325},{"p":"B2","x":404.23,"r":320},{"p":"B2","x":404.32,"y":312,"r":295},{"p":"B2","x":404.41,"r":290},{"p":"B2","x":404.5,"y":287,"r":270},{"p":"B2","x":404.6,"r":265},{"p":"B2","x":404.69,"y":257,"r":240},{"p":"B2","x":404.78,"r":235},{"p":"B2","x":404.87,"y":227,"r":205},{"p":"B2","x":404.97,"r":200},{"p":"B2","x":405.06,"y":202,"r":185},{"p":"B2","x":405.15,"r":175},{"p":"B2","x":405.24,"y":172,"r":155},{"p":"B2","x":405.33,"r":150},{"p":"B2","x":405.42,"y":147,"r":130},{"p":"B2","x":405.52,"r":125},{"p":"B2","x":405.61,"y":127,"r":110},{"p":"B2","x":405.7,"r":110},{"p":"B2","x":405.79,"y":112,"r":95},{"p":"B2","x":405.88,"r":100},{"p":"B2","x":405.97,"y":97,"r":75},{"p":"B2","x":406.06,"r":30},{"p":"B2","x":406.16,"y":87,"r":60},{"p":"B2","x":406.3,"r":95},{"p":"B2","x":406.43,"y":77,"r":70},{"p":"B2","x":406.57,"r":85},{"p":"B2","x":406.71,"y":70,"r":55},{"p":"B2","x":406.85,"r":80},{"p":"B2","x":406.99,"y":67,"r":60},{"p":"B2","x":407.12,"r":95},{"p":"B2","x":407.26,"y":70,"r":70},{"p":"B2","x":407.4,"r":120},{"p":"B2","x":407.54,"y":77,"r":65},{"p":"B2","x":407.67,"r":105},{"p":"B2","x":407.81,"y":80,"r":70},{"p":"B2","x":407.9,"r":115},{"p":"B2","x":407.99,"y":82,"r":85},{"p":"B2","x":408.05,"r":70},
{"p":"B3","x":160.09,"y":70,"r":70},{"p":"B3","x":160.42,"y":68,"r":72},{"p":"B3","x":160.78,"y":65,"r":63},{"p":"B3","x":161.15,"y":65,"r":70},{"p":"B3","x":161.51,"y":68,"r":66},{"p":"B3","x":161.88,"y":62,"r":64},{"p":"B3","x":162.24,"y":64,"r":62},{"p":"B3","x":162.61,"y":68,"r":72},{"p":"B3","x":162.97,"y":72,"r":70},{"p":"B3","x":163.34,"y":75,"r":77},{"p":"B3","x":163.7,"y":74,"r":72},{"p":"B3","x":164.07,"y":70,"r":71},{"p":"B3","x":164.43,"y":68,"r":66},{"p":"B3","x":164.8,"y":62,"r":64},{"p":"B3","x":165.16,"y":60,"r":62},{"p":"B3","x":165.3,"r":110},{"p":"B3","x":165.38,"y":70,"r":72},{"p":"B3","x":165.53,"y":110,"r":110},{"p":"B3","x":165.71,"y":140,"r":140},{"p":"B3","x":165.89,"y":178,"r":178},{"p":"B3","x":166.11,"y":240,"r":240},{"p":"B3","x":166.31,"y":305,"r":305},{"p":"B3","x":166.41,"y":385,"r":385},{"p":"B3","x":166.59,"y":445,"r":445},{"p":"B3","x":166.72,"y":500,"r":500},{"p":"B3","x":166.84,"y":565,"r":565},{"p":"B3","x":166.93,"y":602,"r":602},{"p":"B3","x":166.99,"y":650,"r":650},{"p":"B3","x":167.17,"y":690,"r":690},{"p":"B3","x":167.32,"y":712,"r":712},{"p":"B3","x":167.45,"y":718,"r":725},{"p":"B3","x":167.63,"y":712,"r":712},{"p":"B3","x":167.76,"y":700,"r":700},{"p":"B3","x":167.9,"y":670,"r":670},{"p":"B3","x":168.08,"y":640,"r":640},{"p":"B3","x":168.27,"y":608,"r":608},{"p":"B3","x":168.45,"y":560,"r":560},{"p":"B3","x":168.63,"y":500,"r":500},{"p":"B3","x":168.81,"y":440,"r":440},{"p":"B3","x":168.95,"y":375,"r":375},{"p":"B3","x":169.1,"y":300,"r":300},{"p":"B3","x":169.27,"y":250,"r":250},{"p":"B3","x":169.4,"y":215,"r":215},{"p":"B3","x":169.54,"y":185,"r":185},{"p":"B3","x":169.73,"y":160,"r":160},{"p":"B3","x":169.91,"y":140,"r":140},{"p":"B3","x":170.09,"y":120,"r":120},{"p":"B3","x":170.31,"y":105,"r":105},{"p":"B3","x":170.55,"y":90,"r":90},{"p":"B3","x":170.82,"y":78,"r":78},{"p":"B3","x":171.09,"y":70,"r":71},{"p":"B3","x":171.37,"y":65,"r":64},{"p":"B3","x":171.64,"y":62,"r":63},{"p":"B3","x":171.92,"y":62,"r":61},{"p":"B3","x":172.19,"y":62,"r":63},{"p":"B3","x":172.46,"y":65,"r":66},{"p":"B3","x":172.74,"y":70,"r":69},{"p":"B3","x":173.01,"y":75,"r":76},{"p":"B3","x":173.28,"y":78,"r":77},{"p":"B3","x":173.56,"y":80,"r":84},{"p":"B3","x":173.83,"y":78,"r":76},{"p":"B3","x":174.11,"y":75,"r":80},{"p":"B3","x":174.38,"y":72,"r":70},{"p":"B3","x":174.65,"y":65,"r":66},{"p":"B3","x":174.93,"y":60,"r":58},
{"p":"B4","x":525.19,"y":45,"r":45},{"p":"B4","x":525.56,"y":40,"r":41},{"p":"B4","x":525.92,"y":37,"r":36},{"p":"B4","x":526.28,"y":40,"r":40},{"p":"B4","x":526.65,"y":38,"r":39},{"p":"B4","x":527.01,"y":35,"r":35},{"p":"B4","x":527.38,"y":40,"r":39},{"p":"B4","x":527.74,"y":38,"r":38},{"p":"B4","x":528.1,"y":40,"r":41},{"p":"B4","x":528.47,"y":42,"r":42},{"p":"B4","x":528.83,"y":50,"r":50},{"p":"B4","x":529.12,"y":65,"r":65},{"p":"B4","x":529.44,"y":90,"r":90},{"p":"B4","x":529.68,"y":145,"r":145},{"p":"B4","x":529.85,"y":240,"r":240},{"p":"B4","x":530.09,"y":345,"r":345},{"p":"B4","x":530.33,"y":405,"r":405},{"p":"B4","x":530.58,"y":550,"r":550},{"p":"B4","x":530.82,"y":600,"r":600},{"p":"B4","x":531.06,"y":637,"r":637},{"p":"B4","x":531.3,"y":670,"r":670},{"p":"B4","x":531.57,"y":645,"r":645},{"p":"B4","x":531.86,"y":620,"r":620},{"p":"B4","x":532.18,"y":585,"r":585},{"p":"B4","x":532.42,"y":490,"r":490},{"p":"B4","x":532.66,"y":425,"r":425},{"p":"B4","x":532.9,"y":370,"r":370},{"p":"B4","x":533.15,"y":285,"r":285},{"p":"B4","x":533.39,"y":230,"r":230},{"p":"B4","x":533.63,"y":170,"r":170},{"p":"B4","x":533.87,"y":145,"r":145},{"p":"B4","x":534.12,"y":115,"r":115},{"p":"B4","x":534.41,"y":95,"r":95},{"p":"B4","x":534.7,"y":90,"r":90},{"p":"B4","x":535.01,"y":85,"r":85},{"p":"B4","x":535.38,"y":77,"r":77},{"p":"B4","x":535.74,"y":70,"r":70},{"p":"B4","x":536.1,"y":65,"r":65},{"p":"B4","x":536.47,"y":60,"r":60},{"p":"B4","x":536.83,"y":45,"r":45},{"p":"B4","x":537.19,"y":40,"r":40},{"p":"B4","x":537.56,"y":35,"r":36},{"p":"B4","x":537.92,"y":35,"r":34},{"p":"B4","x":538.28,"y":38,"r":38},{"p":"B4","x":538.65,"y":37,"r":37},{"p":"B4","x":539.01,"y":40,"r":40},{"p":"B4","x":539.38,"y":40,"r":39},{"p":"B4","x":539.74,"y":37,"r":38},{"p":"B4","x":540.1,"y":55,"r":55},{"p":"B4","x":540.47,"y":57,"r":57},{"p":"B4","x":540.83,"y":53,"r":53},{"p":"B4","x":541.19,"y":50,"r":50},{"p":"B4","x":541.56,"y":45,"r":45},{"p":"B4","x":541.92,"y":45,"r":46},{"p":"B4","x":542.28,"y":50,"r":50},{"p":"B4","x":542.65,"y":50,"r":49},{"p":"B4","x":543.01,"y":53,"r":53},{"p":"B4","x":543.38,"y":55,"r":55},{"p":"B4","x":543.74,"y":55,"r":56},{"p":"B4","x":544.1,"y":57,"r":57},{"p":"B4","x":544.47,"y":60,"r":60},{"p":"B4","x":544.83,"y":65,"r":65}
]
},
"resolve":{"scale":{"x":"independent","y":"independent","color":"independent"},"legend":{"color":"independent"}},
"spacing":10,
"vconcat":[
{"spacing":32,"bounds":"flush","resolve":{"scale":{"x":"independent","y":"independent","color":"independent"},"legend":{"color":"independent"}},
 "hconcat":[
 {"width":271,"height":261,
  "encoding":{"x":{"field":"x","type":"quantitative","scale":{"domain":[280,292.5],"nice":false,"zero":false},"axis":{"values":[280,282,284,286,288,290,292],"labelExpr":"datum.value % 4 === 0 ? datum.label : ''","title":"Binding energy (eV)"}},
   "y":{"field":"y","type":"quantitative","scale":{"domain":[0,784],"nice":false,"zero":false},"axis":{"title":"Intensity (a.u.)"}}},
  "layer":[
   {"data":{"name":"fit"},"transform":[{"filter":"datum.p==='A1' && isValid(datum.r)"}],"mark":{"type":"line","color":"#000","strokeWidth":1},"encoding":{"y":{"field":"r","type":"quantitative"}}},
   {"data":{"name":"comp"},"transform":[{"filter":"datum.p==='A1'"}],"mark":{"type":"area","opacity":0.6,"interpolate":"monotone"},
    "encoding":{"y2":{"datum":30},"color":{"field":"c","type":"nominal","scale":{"domain":["Raw curve","C-C/C=C","C-O/C=N","C-S","C=O"],"range":["#000000","#ff0000","#00c000","#0000ff","#00e6e6"]},
     "legend":{"title":null,"encode":{"symbols":{"update":{"stroke":{"signal":"datum.value==='Raw curve'?'#222222':datum.value==='C-C/C=C'?'#e84848':datum.value==='C-O/C=N'?'#66cc55':datum.value==='C-S'?'#5050e8':'#70eeee'"}}}}}}}},
   {"data":{"name":"fit"},"transform":[{"filter":"datum.p==='A1' && isValid(datum.y)"}],"mark":{"type":"point","filled":true,"shape":"circle","size":30,"color":"#2a2aae","stroke":"#0c0c5c","strokeWidth":0.6,"opacity":1}},
   {"data":{"name":"fit"},"transform":[{"filter":"datum.p==='A1' && datum.x===280.15"}],"mark":{"type":"text","align":"left","baseline":"middle","fontSize":16},"encoding":{"x":{"datum":280.4,"type":"quantitative"},"y":{"datum":720,"type":"quantitative"},"text":{"value":"A1"}}},
   {"data":{"name":"fit"},"transform":[{"filter":"datum.p==='A1' && datum.x===280.15"}],"mark":{"type":"text","align":"center","baseline":"middle","fontSize":12.5},"encoding":{"x":{"datum":290.2,"type":"quantitative"},"y":{"datum":380,"type":"quantitative"},"text":{"value":"LGQD C1S"}}}
  ]},
 {"width":274,"height":261,
  "encoding":{"x":{"field":"x","type":"quantitative","scale":{"domain":[392.95,408.05],"nice":false,"zero":false},"axis":{"values":[395,397.5,400,402.5,405,407.5],"labelExpr":"datum.value % 5 === 0 ? datum.label : ''","title":"Binding energy (eV)"}},
   "y":{"field":"y","type":"quantitative","scale":{"domain":[0,783],"nice":false,"zero":false},"axis":{"title":"Intensity (a.u.)"}}},
  "layer":[
   {"data":{"name":"fit"},"transform":[{"filter":"datum.p==='A2' && isValid(datum.r)"}],"mark":{"type":"line","color":"#000","strokeWidth":1,"clip":true},"encoding":{"y":{"field":"r","type":"quantitative"}}},
   {"data":{"name":"comp"},"transform":[{"filter":"datum.p==='A2'"}],"mark":{"type":"area","opacity":0.6,"interpolate":"monotone"},
    "encoding":{"y2":{"datum":47},"color":{"field":"c","type":"nominal","scale":{"domain":["Raw curve","Pyridinic N","Graphitic N"],"range":["#000000","#ff0000","#00e000"]},
     "legend":{"title":null,"encode":{"symbols":{"update":{"stroke":{"signal":"datum.value==='Raw curve'?'#222222':datum.value==='Pyridinic N'?'#f06060':'#66ee66'"}}}}}}}},
   {"data":{"name":"fit"},"transform":[{"filter":"datum.p==='A2' && isValid(datum.y)"}],"mark":{"type":"point","filled":true,"shape":"circle","size":30,"color":"#2a2aae","stroke":"#0c0c5c","strokeWidth":0.6,"opacity":1}},
   {"data":{"name":"fit"},"transform":[{"filter":"datum.p==='A2' && datum.x===393.33"}],"mark":{"type":"text","align":"left","baseline":"middle","fontSize":16},"encoding":{"x":{"datum":393.4,"type":"quantitative"},"y":{"datum":725,"type":"quantitative"},"text":{"value":"A2"}}},
   {"data":{"name":"fit"},"transform":[{"filter":"datum.p==='A2' && datum.x===393.33"}],"mark":{"type":"text","align":"center","baseline":"middle","fontSize":12.5},"encoding":{"x":{"datum":404.96,"type":"quantitative"},"y":{"datum":415,"type":"quantitative"},"text":{"value":"LGQD N1s"}}}
  ]},
 {"width":273,"height":261,
  "encoding":{"x":{"field":"x","type":"quantitative","scale":{"domain":[160,175],"nice":false,"zero":false},"axis":{"values":[160,162.5,165,167.5,170,172.5,175],"labelExpr":"datum.value % 5 === 0 ? datum.label : ''","title":"Binding energy (eV)"}},
   "y":{"field":"y","type":"quantitative","scale":{"domain":[0,780],"nice":false,"zero":false},"axis":{"title":"Intensity (a.u.)"}}},
  "layer":[
   {"data":{"name":"fit"},"transform":[{"filter":"datum.p==='A3' && isValid(datum.r)"}],"mark":{"type":"line","color":"#000","strokeWidth":1},"encoding":{"y":{"field":"r","type":"quantitative"}}},
   {"data":{"name":"comp"},"transform":[{"filter":"datum.p==='A3'"}],"mark":{"type":"area","opacity":0.6,"interpolate":"monotone"},
    "encoding":{"y2":{"datum":20},"color":{"field":"c","type":"nominal","scale":{"domain":["r","g","b"],"range":["#ff0000","#00e000","#2020ff"]},"legend":null}}},
   {"data":{"name":"fit"},"transform":[{"filter":"datum.p==='A3' && isValid(datum.y)"}],"mark":{"type":"point","filled":true,"shape":"circle","size":30,"color":"#2a2aae","stroke":"#0c0c5c","strokeWidth":0.6,"opacity":1}},
   {"data":{"name":"fit"},"transform":[{"filter":"datum.p==='A3' && datum.x===160.09"}],"mark":{"type":"text","align":"left","baseline":"middle","fontSize":16},"encoding":{"x":{"datum":160.4,"type":"quantitative"},"y":{"datum":748,"type":"quantitative"},"text":{"value":"A3"}}},
   {"data":{"name":"fit"},"transform":[{"filter":"datum.p==='A3' && datum.x===160.09"}],"mark":{"type":"text","align":"center","baseline":"middle","fontSize":11},"encoding":{"x":{"datum":173.0,"type":"quantitative"},"y":{"datum":743,"type":"quantitative"},"text":{"value":"-C- SOₓ⁻"}}},
   {"data":{"name":"fit"},"transform":[{"filter":"datum.p==='A3' && datum.x===160.09"}],"mark":{"type":"text","align":"center","baseline":"middle","fontSize":11},"encoding":{"x":{"datum":173.2,"type":"quantitative"},"y":{"datum":658,"type":"quantitative"},"text":{"value":"x=2,3,4"}}},
   {"data":{"name":"fit"},"transform":[{"filter":"datum.p==='A3' && datum.x===160.09"}],"mark":{"type":"text","align":"center","baseline":"middle","fontSize":12.5},"encoding":{"x":{"datum":172.9,"type":"quantitative"},"y":{"datum":353,"type":"quantitative"},"text":{"value":"LGQD S2p"}}}
  ]},
 {"width":277,"height":261,
  "encoding":{"x":{"field":"x","type":"quantitative","scale":{"domain":[525,545.07],"nice":false,"zero":false},"axis":{"values":[525,527.5,530,532.5,535,537.5,540,542.5,545],"labelExpr":"datum.value % 5 === 0 ? datum.label : ''","title":"Binding energy (eV)"}},
   "y":{"field":"y","type":"quantitative","scale":{"domain":[0,780],"nice":false,"zero":false},"axis":{"title":"Intensity (a.u.)"}}},
  "layer":[
   {"data":{"name":"fit"},"transform":[{"filter":"datum.p==='A4' && isValid(datum.r)"}],"mark":{"type":"line","color":"#000","strokeWidth":1},"encoding":{"y":{"field":"r","type":"quantitative"}}},
   {"data":{"name":"comp"},"transform":[{"filter":"datum.p==='A4'"}],"mark":{"type":"area","opacity":0.6,"interpolate":"monotone"},
    "encoding":{"y2":{"datum":30},"color":{"field":"c","type":"nominal","scale":{"domain":["Raw curve","C=O","C-O"],"range":["#000000","#00e000","#ff0000"]},
     "legend":{"title":null,"encode":{"symbols":{"update":{"stroke":{"signal":"datum.value==='Raw curve'?'#222222':datum.value==='C=O'?'#66ee66':'#f06060'"}}}}}}}},
   {"data":{"name":"fit"},"transform":[{"filter":"datum.p==='A4' && isValid(datum.y)"}],"mark":{"type":"point","filled":true,"shape":"circle","size":30,"color":"#2a2aae","stroke":"#0c0c5c","strokeWidth":0.6,"opacity":1}},
   {"data":{"name":"fit"},"transform":[{"filter":"datum.p==='A4' && datum.x===525.07"}],"mark":{"type":"text","align":"left","baseline":"middle","fontSize":16},"encoding":{"x":{"datum":525.7,"type":"quantitative"},"y":{"datum":720,"type":"quantitative"},"text":{"value":"A4"}}},
   {"data":{"name":"fit"},"transform":[{"filter":"datum.p==='A4' && datum.x===525.07"}],"mark":{"type":"text","align":"center","baseline":"middle","fontSize":12.5},"encoding":{"x":{"datum":541.26,"type":"quantitative"},"y":{"datum":350,"type":"quantitative"},"text":{"value":"LGQD O1s"}}}
  ]}
 ]},
{"spacing":32,"bounds":"flush","resolve":{"scale":{"x":"independent","y":"independent","color":"independent"},"legend":{"color":"independent"}},
 "hconcat":[
 {"width":272,"height":261,
  "encoding":{"x":{"field":"x","type":"quantitative","scale":{"domain":[280,295.07],"nice":false,"zero":false},"axis":{"values":[280,282.5,285,287.5,290,292.5,295],"labelExpr":"datum.value % 5 === 0 ? datum.label : ''","title":null}},
   "y":{"field":"y","type":"quantitative","scale":{"domain":[0,787],"nice":false,"zero":false},"axis":{"title":"Intensity (a.u.)"}}},
  "layer":[
   {"data":{"name":"fit"},"transform":[{"filter":"datum.p==='B1' && isValid(datum.r)"}],"mark":{"type":"line","color":"#000","strokeWidth":1},"encoding":{"y":{"field":"r","type":"quantitative"}}},
   {"data":{"name":"comp"},"transform":[{"filter":"datum.p==='B1'"}],"mark":{"type":"area","opacity":0.8,"interpolate":"monotone"},
    "encoding":{"y2":{"datum":37},"color":{"field":"c","type":"nominal","scale":{"domain":["Raw curve","C-C/C=C","C-O/C-N","C-S","C=O"],"range":["#000000","#ff0000","#00e600","#0000ff","#00ffff"]},
     "legend":{"title":null,"encode":{"symbols":{"update":{"stroke":{"signal":"datum.value==='Raw curve'?'#222222':datum.value==='C-C/C=C'?'#f05050':datum.value==='C-O/C-N'?'#44dd44':datum.value==='C-S'?'#3030e0':'#40f0f0'"}}}}}}}},
   {"data":{"name":"fit"},"transform":[{"filter":"datum.p==='B1' && isValid(datum.y)"}],"mark":{"type":"point","filled":true,"shape":"circle","size":30,"color":"#2a2aae","stroke":"#0c0c5c","strokeWidth":0.6,"opacity":1}},
   {"data":{"name":"fit"},"transform":[{"filter":"datum.p==='B1' && datum.x===280.15"}],"mark":{"type":"text","align":"left","baseline":"middle","fontSize":16},"encoding":{"x":{"datum":280.6,"type":"quantitative"},"y":{"datum":710,"type":"quantitative"},"text":{"value":"B1"}}},
   {"data":{"name":"fit"},"transform":[{"filter":"datum.p==='B1' && datum.x===280.15"}],"mark":{"type":"text","align":"center","baseline":"middle","fontSize":12.5},"encoding":{"x":{"datum":291.9,"type":"quantitative"},"y":{"datum":350,"type":"quantitative"},"text":{"value":"Mn-LGQD C1S"}}}
  ]},
 {"width":274,"height":261,
  "encoding":{"x":{"field":"x","type":"quantitative","scale":{"domain":[392.95,408.05],"nice":false,"zero":false},"axis":{"values":[395,397.5,400,402.5,405,407.5],"labelExpr":"datum.value % 5 === 0 ? datum.label : ''","title":null}},
   "y":{"field":"y","type":"quantitative","scale":{"domain":[0,782],"nice":false,"zero":false},"axis":{"title":"Intensity (a.u.)"}}},
  "layer":[
   {"data":{"name":"fit"},"transform":[{"filter":"datum.p==='B2' && isValid(datum.r)"}],"mark":{"type":"line","color":"#000","strokeWidth":1,"clip":true},"encoding":{"y":{"field":"r","type":"quantitative"}}},
   {"data":{"name":"comp"},"transform":[{"filter":"datum.p==='B2'"}],"mark":{"type":"area","opacity":0.8,"interpolate":"monotone"},
    "encoding":{"y2":{"datum":80},"color":{"field":"c","type":"nominal","scale":{"domain":["Raw curve","Pyridinic N","Graphitic N"],"range":["#000000","#ff0000","#00e600"]},
     "legend":{"title":null,"encode":{"symbols":{"update":{"stroke":{"signal":"datum.value==='Raw curve'?'#222222':datum.value==='Pyridinic N'?'#f04040':'#44ee44'"}}}}}}}},
   {"data":{"name":"fit"},"transform":[{"filter":"datum.p==='B2' && isValid(datum.y)"}],"mark":{"type":"point","filled":true,"shape":"circle","size":30,"color":"#2a2aae","stroke":"#0c0c5c","strokeWidth":0.6,"opacity":1}},
   {"data":{"name":"fit"},"transform":[{"filter":"datum.p==='B2' && datum.x===393.11"}],"mark":{"type":"text","align":"left","baseline":"middle","fontSize":16},"encoding":{"x":{"datum":393.57,"type":"quantitative"},"y":{"datum":722,"type":"quantitative"},"text":{"value":"B2"}}},
   {"data":{"name":"fit"},"transform":[{"filter":"datum.p==='B2' && datum.x===393.11"}],"mark":{"type":"text","align":"center","baseline":"middle","fontSize":12.5},"encoding":{"x":{"datum":405.33,"type":"quantitative"},"y":{"datum":392,"type":"quantitative"},"text":{"value":"Mn-LGQD N1s"}}}
  ]},
 {"width":274,"height":261,
  "encoding":{"x":{"field":"x","type":"quantitative","scale":{"domain":[160,175.02],"nice":false,"zero":false},"axis":{"values":[160,162.5,165,167.5,170,172.5,175],"labelExpr":"datum.value % 5 === 0 ? datum.label : ''","title":null}},
   "y":{"field":"y","type":"quantitative","scale":{"domain":[0,785],"nice":false,"zero":false},"axis":{"title":"Intensity (a.u.)"}}},
  "layer":[
   {"data":{"name":"fit"},"transform":[{"filter":"datum.p==='B3' && isValid(datum.r)"}],"mark":{"type":"line","color":"#000","strokeWidth":1},"encoding":{"y":{"field":"r","type":"quantitative"}}},
   {"data":{"name":"comp"},"transform":[{"filter":"datum.p==='B3'"}],"mark":{"type":"area","opacity":0.85,"interpolate":"monotone"},
    "encoding":{"y2":{"datum":72},"color":{"field":"c","type":"nominal","scale":{"domain":["g1","g2","r","k"],"range":["#00e600","#118811","#ee0000","#444444"]},"legend":null}}},
   {"data":{"name":"fit"},"transform":[{"filter":"datum.p==='B3' && isValid(datum.y)"}],"mark":{"type":"point","filled":true,"shape":"circle","size":30,"color":"#2a2aae","stroke":"#0c0c5c","strokeWidth":0.6,"opacity":1}},
   {"data":{"name":"fit"},"transform":[{"filter":"datum.p==='B3' && datum.x===160.09"}],"mark":{"type":"text","align":"left","baseline":"middle","fontSize":16},"encoding":{"x":{"datum":160.5,"type":"quantitative"},"y":{"datum":720,"type":"quantitative"},"text":{"value":"B3"}}},
   {"data":{"name":"fit"},"transform":[{"filter":"datum.p==='B3' && datum.x===160.09"}],"mark":{"type":"text","align":"center","baseline":"middle","fontSize":11},"encoding":{"x":{"datum":173.1,"type":"quantitative"},"y":{"datum":725,"type":"quantitative"},"text":{"value":"-C-SOₓ⁻"}}},
   {"data":{"name":"fit"},"transform":[{"filter":"datum.p==='B3' && datum.x===160.09"}],"mark":{"type":"text","align":"center","baseline":"middle","fontSize":11},"encoding":{"x":{"datum":173.0,"type":"quantitative"},"y":{"datum":650,"type":"quantitative"},"text":{"value":"x=2,3,4"}}},
   {"data":{"name":"fit"},"transform":[{"filter":"datum.p==='B3' && datum.x===160.09"}],"mark":{"type":"text","align":"center","baseline":"middle","fontSize":12.5},"encoding":{"x":{"datum":172.28,"type":"quantitative"},"y":{"datum":365,"type":"quantitative"},"text":{"value":"Mn-LGQD S2p"}}}
  ]},
 {"width":276,"height":261,
  "encoding":{"x":{"field":"x","type":"quantitative","scale":{"domain":[525,545.07],"nice":false,"zero":false},"axis":{"values":[525,527.5,530,532.5,535,537.5,540,542.5,545],"labelExpr":"datum.value % 5 === 0 ? datum.label : ''","title":null}},
   "y":{"field":"y","type":"quantitative","scale":{"domain":[0,790],"nice":false,"zero":false},"axis":{"title":"Intensity (a.u.)"}}},
  "layer":[
   {"data":{"name":"fit"},"transform":[{"filter":"datum.p==='B4' && isValid(datum.r)"}],"mark":{"type":"line","color":"#000","strokeWidth":1},"encoding":{"y":{"field":"r","type":"quantitative"}}},
   {"data":{"name":"comp"},"transform":[{"filter":"datum.p==='B4'"}],"mark":{"type":"area","opacity":0.8,"interpolate":"monotone"},
    "encoding":{"y2":{"datum":45},"color":{"field":"c","type":"nominal","scale":{"domain":["Raw curve","C-O","C=O"],"range":["#000000","#ff0000","#00dd00"]},
     "legend":{"title":null,"encode":{"symbols":{"update":{"stroke":{"signal":"datum.value==='Raw curve'?'#222222':datum.value==='C-O'?'#f04040':'#44ee44'"}}}}}}}},
   {"data":{"name":"fit"},"transform":[{"filter":"datum.p==='B4' && isValid(datum.y)"}],"mark":{"type":"point","filled":true,"shape":"circle","size":30,"color":"#2a2aae","stroke":"#0c0c5c","strokeWidth":0.6,"opacity":1}},
   {"data":{"name":"fit"},"transform":[{"filter":"datum.p==='B4' && datum.x===525.19"}],"mark":{"type":"text","align":"left","baseline":"middle","fontSize":16},"encoding":{"x":{"datum":526.0,"type":"quantitative"},"y":{"datum":725,"type":"quantitative"},"text":{"value":"B4"}}},
   {"data":{"name":"fit"},"transform":[{"filter":"datum.p==='B4' && datum.x===525.19"}],"mark":{"type":"text","align":"center","baseline":"middle","fontSize":12.5},"encoding":{"x":{"datum":540.95,"type":"quantitative"},"y":{"datum":345,"type":"quantitative"},"text":{"value":"Mn-LGQD O1s"}}}
  ]}
 ]}
]
}
